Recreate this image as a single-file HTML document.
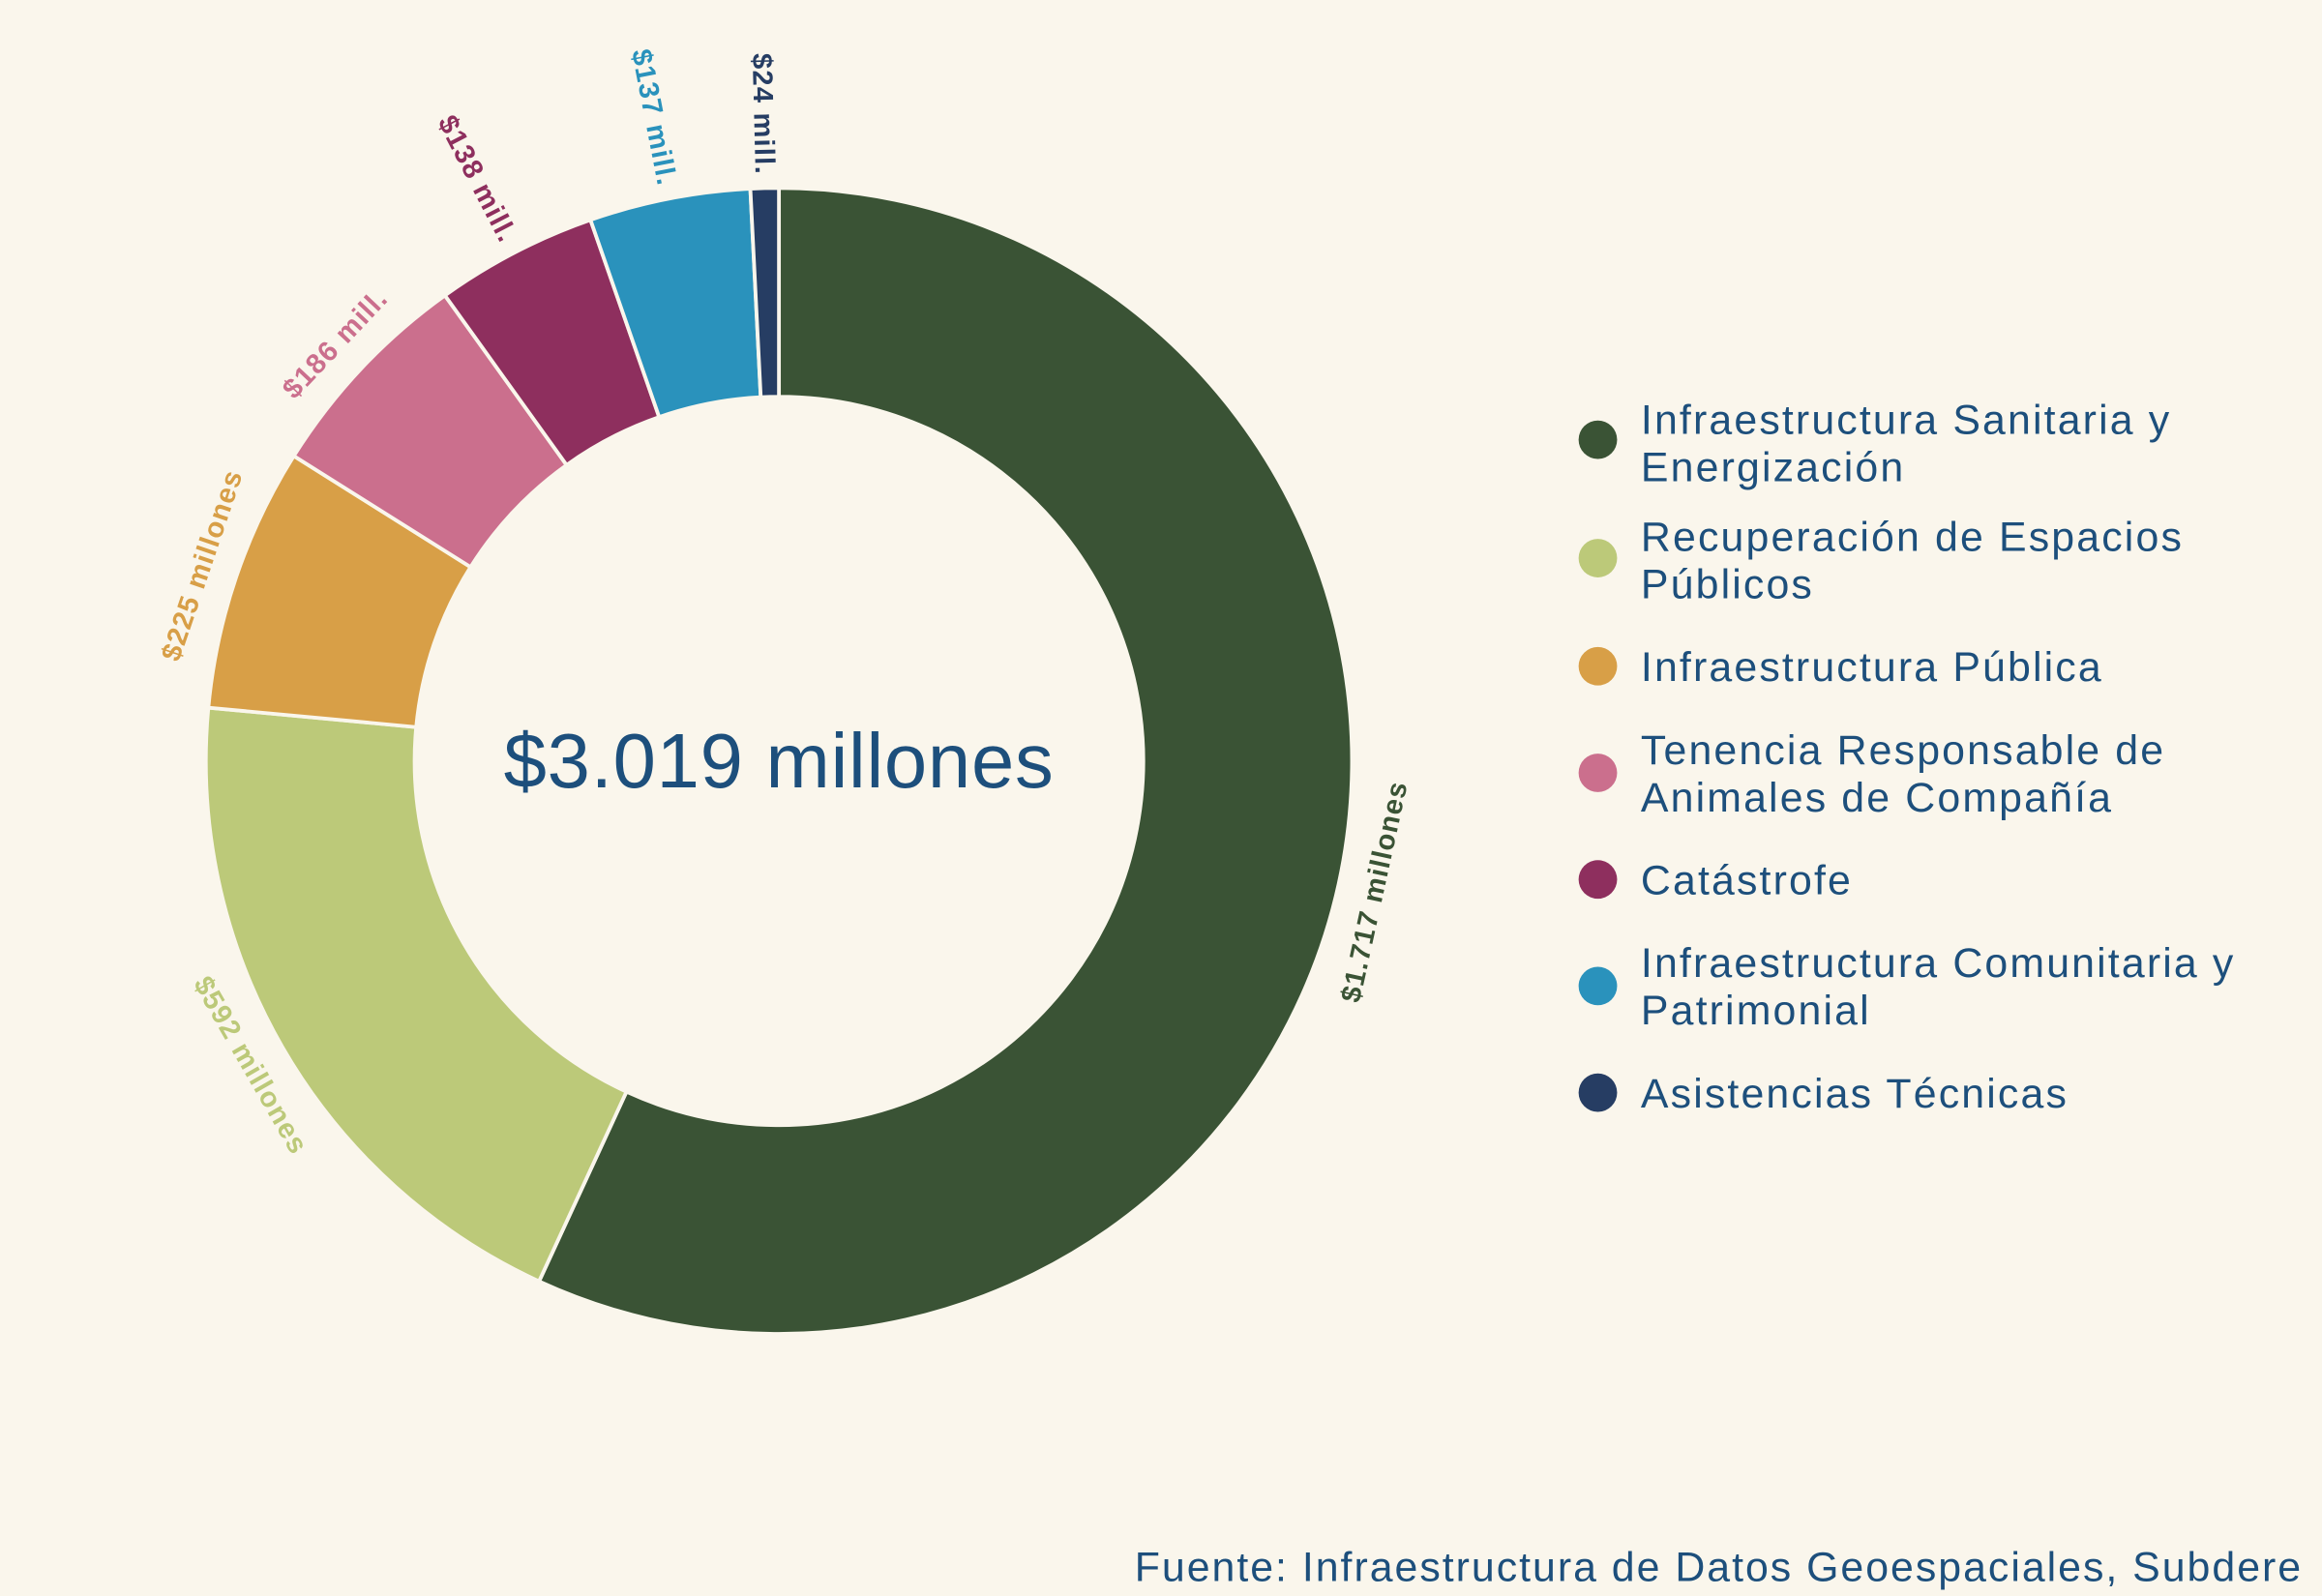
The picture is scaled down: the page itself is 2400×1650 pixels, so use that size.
<!DOCTYPE html>
<html><head><meta charset="utf-8">
<style>
html,body{margin:0;padding:0;background:#faf6ec;}
svg{display:block;font-family:"Liberation Sans",sans-serif;}
</style></head>
<body>
<svg id="s" width="2400" height="1650" viewBox="0 0 1568 1078" xmlns="http://www.w3.org/2000/svg">
<rect width="1568" height="1078" fill="#faf6ec"/>
<g id="pie"></g>
<text x="526" y="514" text-anchor="middle" dominant-baseline="central" font-size="52" letter-spacing="0.5" fill="#1d4f7c">$3.019 millones</text>
<g font-size="28" letter-spacing="1.4" fill="#1d4f7c">
<circle cx="1079" cy="297" r="13" fill="#3a5335"/><text x="1108" y="293">Infraestructura Sanitaria y</text><text x="1108" y="325">Energización</text>
<circle cx="1079" cy="377" r="13" fill="#bcc979"/><text x="1108" y="372">Recuperación de Espacios</text><text x="1108" y="404">Públicos</text>
<circle cx="1079" cy="450" r="13" fill="#d89f47"/><text x="1108" y="460">Infraestructura Pública</text>
<circle cx="1079" cy="522" r="13" fill="#cb6f8d"/><text x="1108" y="516">Tenencia Responsable de</text><text x="1108" y="548">Animales de Compañía</text>
<circle cx="1079" cy="594" r="13" fill="#8e2f5e"/><text x="1108" y="604">Catástrofe</text>
<circle cx="1079" cy="666" r="13" fill="#2a92bc"/><text x="1108" y="660">Infraestructura Comunitaria y</text><text x="1108" y="692">Patrimonial</text>
<circle cx="1079" cy="738" r="13" fill="#263d63"/><text x="1108" y="748">Asistencias Técnicas</text>
</g>
<text x="1555" y="1068" text-anchor="end" font-size="28" letter-spacing="1.3" fill="#1d4f7c">Fuente: Infraestructura de Datos Geoespaciales, Subdere</text>
</svg>
<script>
var d=[[1717,"#3a5335","$1.717 millones","t"],[592,"#bcc979","$592 millones","t"],[225,"#d89f47","$225 millones","c"],[186,"#cb6f8d","$186 mill.","c"],[138,"#8e2f5e","$138 mill.","r"],[137,"#2a92bc","$137 mill.","r"],[24,"#263d63","$24 mill.","r"]];
var cx=526,cy=514,R=387,r=246,T=3019,a=0,h="";
function p(ang,rad){var t=ang*Math.PI/180;return [cx+rad*Math.sin(t),cy-rad*Math.cos(t)];}
d.forEach(function(s){
 var a2=a+s[0]/T*360,lg=(a2-a)>180?1:0;
 var p1=p(a,R),p2=p(a2,R),p3=p(a2,r),p4=p(a,r);
 h+='<path d="M'+p1+' A'+R+','+R+' 0 '+lg+' 1 '+p2+' L'+p3+' A'+r+','+r+' 0 '+lg+' 0 '+p4+'Z" fill="'+s[1]+'" stroke="#faf6ec" stroke-width="2.5"/>';
 var m=(a+a2)/2,q,rot,anc="middle";
 if(s[3]=="t"){q=p(m,412);rot=m-180;}
 else if(s[3]=="c"){q=p(m,411);rot=m-360;}
 else{q=p(m,396);rot=m+90;anc="end";}
 h+='<text x="'+q[0]+'" y="'+q[1]+'" text-anchor="'+anc+'" dominant-baseline="central" font-size="19" letter-spacing="0.8" font-weight="bold" fill="'+s[1]+'" transform="rotate('+rot+' '+q[0]+' '+q[1]+')">'+s[2]+'</text>';
 a=a2;
});
document.getElementById("pie").innerHTML=h;
</script>
</body></html>
